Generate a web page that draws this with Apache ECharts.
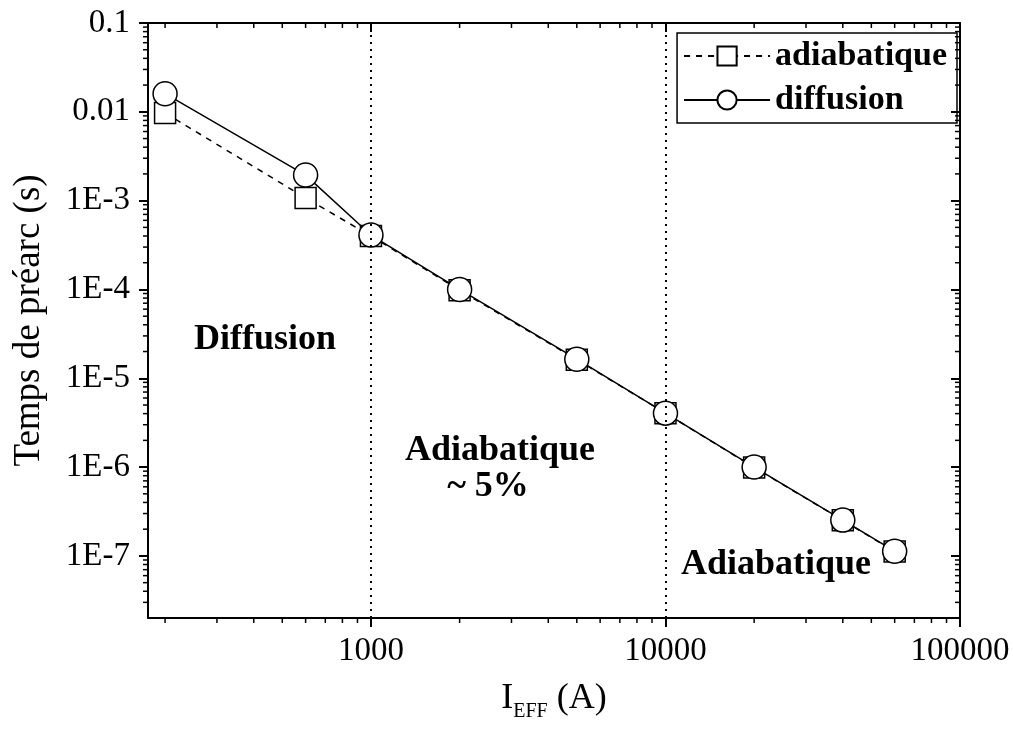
<!DOCTYPE html>
<html>
<head>
<meta charset="utf-8">
<script src="https://cdn.jsdelivr.net/npm/echarts@6/dist/echarts.min.js"></script>
<style>
  html, body { margin: 0; padding: 0; background: #fff; }
  #chart { width: 1013px; height: 742px; }
</style>
</head>
<body>
<div id="chart"></div>
<script>
// courant efficace (A)
const courant = [200, 600, 1000, 2000, 5000, 10000, 20000, 40000, 60000]
// temps de préarc (s)
const tempsAdiabatique = [9.7e-3, 1.07e-3, 4.0e-4, 9.8e-5, 1.62e-5, 4.05e-6, 9.9e-7, 2.52e-7, 1.12e-7]
const tempsDiffusion = [1.6e-2, 1.94e-3, 4.1e-4, 1.0e-4, 1.64e-5, 4.05e-6, 1.0e-6, 2.53e-7, 1.13e-7]

const xTicks = [1000, 10000, 100000]
const xTickLabels = ['1000', '10000', '100000']
const yTicks = [1e-1, 1e-2, 1e-3, 1e-4, 1e-5, 1e-6, 1e-7]
const yTickLabels = ['0.1', '0.01', '1E-3', '1E-4', '1E-5', '1E-6', '1E-7']
const limites = [1000, 10000]

const xMin = 175, xMax = 100000
const yMin = 2e-8, yMax = 0.1
const font = 'Liberation Serif'

// petites graduations log (2..9 par décade)
const minorX = []
for (let e = 2; e <= 4; e++) for (let m = 2; m <= 9; m++) {
  const v = m * Math.pow(10, e)
  if (v > xMin && v < xMax) minorX.push([v, yMin])
}
const minorY = []
for (let e = -8; e <= -2; e++) for (let m = 2; m <= 9; m++) {
  const v = m * Math.pow(10, e)
  if (v > yMin && v < yMax) minorY.push([xMin, v])
}

const pick = (ticks, labels) => v => {
  const i = ticks.findIndex(t => Math.abs(Math.log10(t) - Math.log10(v)) < 1e-6)
  return i < 0 ? '' : labels[i]
}

const myChart = echarts.init(document.getElementById('chart'))

const axisCommon = {
  type: 'log',
  logBase: 10,
  splitLine: { show: false },
  axisLine: { show: true, lineStyle: { color: '#000', width: 2 } }
}

const annot = (text, x, y) => ({
  type: 'text',
  x: x,
  y: y,
  style: {
    text: text,
    font: 'bold 36px "Liberation Serif"',
    fill: '#000',
    align: 'center',
    textAlign: 'center',
    verticalAlign: 'middle',
    textVerticalAlign: 'middle'
  }
})

myChart.setOption({
  animation: false,
  backgroundColor: '#fff',
  grid: { left: 148, top: 23, right: 53, bottom: 124 },
  legend: {
    orient: 'vertical',
    right: 56,
    top: 33,
    padding: [6, 10, 6, 6],
    itemGap: 10,
    itemWidth: 86,
    itemHeight: 24,
    borderColor: '#000',
    borderWidth: 1.5,
    textStyle: { fontFamily: font, fontWeight: 'bold', fontSize: 34, color: '#000' },
    data: ['adiabatique', 'diffusion']
  },
  xAxis: [
    {
      ...axisCommon,
      min: xMin,
      max: xMax,
      position: 'bottom',
      axisTick: { inside: false, length: 9, lineStyle: { color: '#000', width: 2 }, customValues: xTicks },
      axisLabel: {
        customValues: xTicks,
        formatter: pick(xTicks, xTickLabels),
        fontFamily: font, fontSize: 33, color: '#000', margin: 17
      },
      name: '{i|I}{s|EFF}{i| (A)}',
      nameLocation: 'middle',
      nameGap: 58,
      nameTextStyle: {
        rich: {
          i: { fontFamily: font, fontSize: 36, color: '#000' },
          s: { fontFamily: font, fontSize: 20, color: '#000', padding: [26, 0, 0, 0] }
        }
      }
    },
    {
      ...axisCommon,
      min: xMin,
      max: xMax,
      position: 'top',
      axisTick: { inside: true, length: 9, lineStyle: { color: '#000', width: 2 }, customValues: xTicks },
      axisLabel: { show: false }
    }
  ],
  yAxis: [
    {
      ...axisCommon,
      min: yMin,
      max: yMax,
      position: 'left',
      axisTick: { inside: false, length: 9, lineStyle: { color: '#000', width: 2 }, customValues: yTicks },
      axisLabel: {
        customValues: yTicks,
        formatter: pick(yTicks, yTickLabels),
        fontFamily: font, fontSize: 33, color: '#000', margin: 18
      },
      name: 'Temps de préarc (s)',
      nameLocation: 'middle',
      nameGap: 100,
      nameTextStyle: { fontFamily: font, fontSize: 37, color: '#000' }
    },
    {
      ...axisCommon,
      min: yMin,
      max: yMax,
      position: 'right',
      axisTick: { inside: true, length: 9, lineStyle: { color: '#000', width: 2 }, customValues: yTicks },
      axisLabel: { show: false }
    }
  ],
  graphic: [
    annot('Diffusion', 265, 340),
    annot('Adiabatique', 500, 451),
    annot('~ 5%', 488, 487),
    annot('Adiabatique', 776, 565)
  ],
  series: [
    {
      name: 'x-minor',
      type: 'custom',
      silent: true,
      xAxisIndex: 0,
      yAxisIndex: 0,
      data: minorX,
      renderItem: (params, api) => {
        const p = api.coord([api.value(0), api.value(1)])
        const cs = params.coordSys
        const st = { stroke: '#000', lineWidth: 1.5 }
        return {
          type: 'group',
          children: [
            { type: 'line', shape: { x1: p[0], y1: cs.y + cs.height, x2: p[0], y2: cs.y + cs.height + 5 }, style: st },
            { type: 'line', shape: { x1: p[0], y1: cs.y, x2: p[0], y2: cs.y + 5 }, style: st }
          ]
        }
      }
    },
    {
      name: 'y-minor',
      type: 'custom',
      silent: true,
      xAxisIndex: 0,
      yAxisIndex: 0,
      data: minorY,
      renderItem: (params, api) => {
        const p = api.coord([api.value(0), api.value(1)])
        const cs = params.coordSys
        const st = { stroke: '#000', lineWidth: 1.5 }
        return {
          type: 'group',
          children: [
            { type: 'line', shape: { x1: cs.x, y1: p[1], x2: cs.x - 5, y2: p[1] }, style: st },
            { type: 'line', shape: { x1: cs.x + cs.width, y1: p[1], x2: cs.x + cs.width - 5, y2: p[1] }, style: st }
          ]
        }
      }
    },
    {
      name: 'adiabatique',
      type: 'line',
      data: courant.map((x, i) => [x, tempsAdiabatique[i]]),
      symbol: 'rect',
      symbolSize: 21,
      lineStyle: { color: '#000', width: 1.5, type: [6, 6] },
      itemStyle: { color: '#fff', borderColor: '#000', borderWidth: 1.5 },
      markLine: {
        silent: true,
        symbol: 'none',
        label: { show: false },
        lineStyle: { color: '#000', width: 2, type: [2, 5] },
        data: limites.map(v => ({ xAxis: v }))
      },
      z: 3
    },
    {
      name: 'diffusion',
      type: 'line',
      data: courant.map((x, i) => [x, tempsDiffusion[i]]),
      symbol: 'circle',
      symbolSize: 24,
      lineStyle: { color: '#000', width: 1.5 },
      itemStyle: { color: '#fff', borderColor: '#000', borderWidth: 1.5 },
      z: 4
    }
  ]
})
</script>
</body>
</html>
